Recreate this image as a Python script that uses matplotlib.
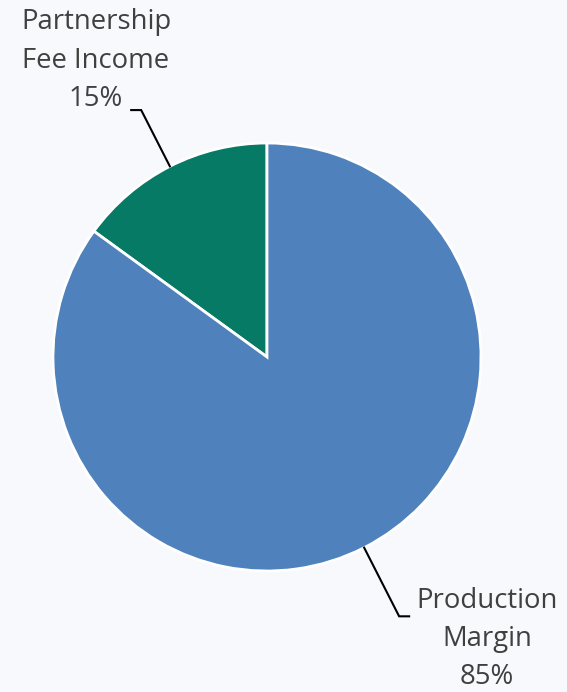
import numpy as np
import matplotlib
matplotlib.use("Agg")
import matplotlib.pyplot as plt

labels = ["Partnership\nFee Income", "Production\nMargin"]
values = [15, 85]
colors = ["#077A65", "#4F81BD"]

W, H = 567, 692
fig = plt.figure(figsize=(W / 100, H / 100), dpi=100)
bg = "#F7F9FC"
fig.patch.set_facecolor(bg)
ax = fig.add_axes([0, 0, 1, 1])
ax.set_facecolor(bg)
ax.set_xlim(0, W)
ax.set_ylim(0, H)
ax.set_aspect("equal")
ax.axis("off")

cx, cy, R = 267, H - 357, 214
wedges, _ = ax.pie(values, colors=colors, startangle=90, counterclock=True,
                   center=(cx, cy), radius=R,
                   wedgeprops=dict(edgecolor="white", linewidth=2))
ax.set_xlim(0, W)
ax.set_ylim(0, H)

total = sum(values)
txt_color = "#404040"
font = "Open Sans"
label_pos = [(96, H - 61), (487, H - 639)]
elbow_r = [1.295, 1.36]
for i, (w, lab, v) in enumerate(zip(wedges, labels, values)):
    mid = np.deg2rad((w.theta1 + w.theta2) / 2)
    x0, y0 = cx + R * np.cos(mid), cy + R * np.sin(mid)
    r1 = elbow_r[i] * R
    x1, y1 = cx + r1 * np.cos(mid), cy + r1 * np.sin(mid)
    side = -1 if np.cos(mid) < 0 else 1
    x2 = x1 + side * 10
    ax.plot([x0, x1, x2], [y0, y1, y1], color="black", lw=1.5,
            solid_joinstyle="miter")
    text = f"{lab}\n{v / total * 100:.0f}%"
    ax.text(*label_pos[i], text, ha="center", va="center", fontsize=19.8,
            family=font, color=txt_color, linespacing=1.5)

fig.savefig("out.png", dpi=100, facecolor=bg)
